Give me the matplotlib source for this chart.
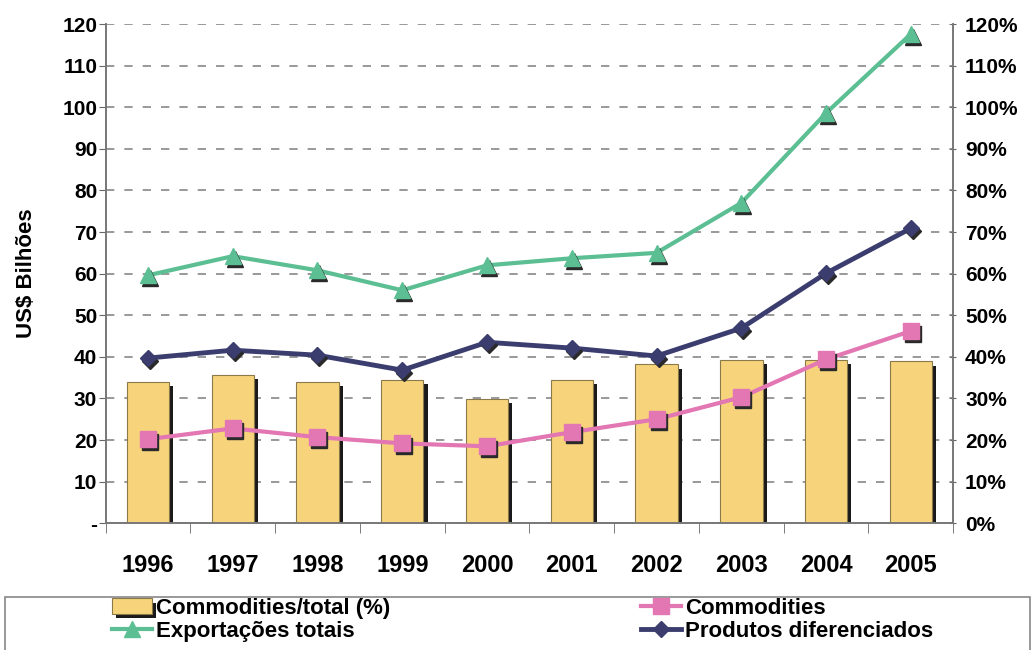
import matplotlib
matplotlib.use("Agg")
import matplotlib.pyplot as plt
import matplotlib.transforms as mtransforms
from matplotlib.patches import Rectangle
import matplotlib.patheffects as pe
import numpy as np

plt.rcParams['font.family'] = ['Liberation Sans', 'DejaVu Sans']
plt.rcParams['font.weight'] = 'bold'

# data
anos = ['1996', '1997', '1998', '1999', '2000', '2001', '2002', '2003', '2004', '2005']
commod_pct = [34.0, 35.6, 34.0, 34.4, 29.8, 34.4, 38.2, 39.2, 39.2, 38.9]   # % (right axis)
exportacoes = [59.6, 64.2, 60.8, 56.0, 62.0, 63.7, 65.0, 77.0, 98.6, 117.6]
produtos_dif = [39.7, 41.6, 40.4, 36.8, 43.5, 42.1, 40.2, 46.9, 60.1, 70.9]
commodities = [20.2, 22.8, 20.7, 19.2, 18.5, 21.9, 25.0, 30.3, 39.4, 46.2]

left_ticks = list(range(0, 121, 10))
left_labels = ['-'] + [str(v) for v in left_ticks[1:]]
right_labels = [f'{v}%' for v in left_ticks]

fig = plt.figure(figsize=(10.35, 6.5), dpi=100)
ax = fig.add_axes([0.102, 0.195, 0.819, 0.768])
ax2 = ax.twinx()

x = np.arange(len(anos))
bar_shadow = [pe.SimplePatchShadow(offset=(3, -3), shadow_rgbFace='#1a1a1a', alpha=1.0), pe.Normal()]
shadow_tr = mtransforms.offset_copy(ax.transData, fig=fig, x=2, y=-3, units='dots')

# bars on the percent axis (same 0-120 scale as left axis)
bars = ax.bar(x, commod_pct, width=0.5, color='#F7D47C', edgecolor='#8a7a4a',
              linewidth=0.8, zorder=2, label='Commodities/total (%)')
for b in bars:
    b.set_path_effects(bar_shadow)

series = [
    (commodities, '#E377B3', 's', 11, 3.0, 'Commodities'),
    (exportacoes, '#5CBF93', '^', 12, 3.0, 'Exportações totais'),
    (produtos_dif, '#3B3D6E', 'D', 8, 3.5, 'Produtos diferenciados'),
]
handles = {}
for vals, col, mk, ms, lw, lab in series:
    ax.plot(x, vals, color=col, lw=lw, zorder=4)
    ax.plot(x, vals, ls='none', marker=mk, ms=ms, color='#2a2a2a', mec='#2a2a2a',
            transform=shadow_tr, zorder=4.5)
    ax.plot(x, vals, ls='none', marker=mk, ms=ms, color=col, mec=col, zorder=5)
    h, = ax.plot([], [], color=col, lw=lw, marker=mk, ms=ms, mec=col, label=lab)
    handles[lab] = h

ax.set_xlim(-0.5, len(anos) - 0.5)
ax.set_ylim(0, 120)
ax2.set_ylim(0, 120)

ax.set_yticks(left_ticks)
ax.set_yticklabels(left_labels, fontsize=15, fontweight='bold')
ax2.set_yticks(left_ticks)
ax2.set_yticklabels(right_labels, fontsize=15, fontweight='bold')

ax.set_xticks(x)
ax.set_xticklabels(anos, fontsize=17, fontweight='bold')
ax.set_xticks(np.arange(-0.5, len(anos), 1), minor=True)
ax.tick_params(axis='x', which='major', length=0, pad=22)
ax.tick_params(axis='x', which='minor', length=7, direction='out', color='#666666')
ax.tick_params(axis='y', length=5, direction='out', color='#666666', pad=1)
ax2.tick_params(axis='y', length=5, direction='inout', color='#666666', pad=6)

ax.set_ylabel('US$ Bilhões', fontsize=16, fontweight='bold', labelpad=18)

ax.grid(axis='y', linestyle=(0, (5, 6)), color='#888888', linewidth=1.2, zorder=0)
ax.set_axisbelow(True)

for a in (ax, ax2):
    a.spines['top'].set_visible(False)
    for s in ('left', 'right', 'bottom'):
        a.spines[s].set_color('#777777')
        a.spines[s].set_linewidth(1.2)

# legend box spanning the bottom
fig.patches.append(Rectangle((5 / 1035, -0.01), 1025 / 1035, 0.0915, transform=fig.transFigure,
                             facecolor='white', edgecolor='#888888', linewidth=1.2, zorder=0))
leg_h = [bars, handles['Exportações totais'], handles['Commodities'], handles['Produtos diferenciados']]
leg_l = [h.get_label() for h in leg_h]
leg = fig.legend(leg_h, leg_l, loc='lower center', bbox_to_anchor=(0.505, -0.012),
                 ncol=2, frameon=False, columnspacing=11.25, handlelength=1.8,
                 handletextpad=0.2, borderpad=0.2, labelspacing=0.1,
                 prop={'weight': 'bold', 'size': 16})

fig.savefig('out.png', dpi=100)
